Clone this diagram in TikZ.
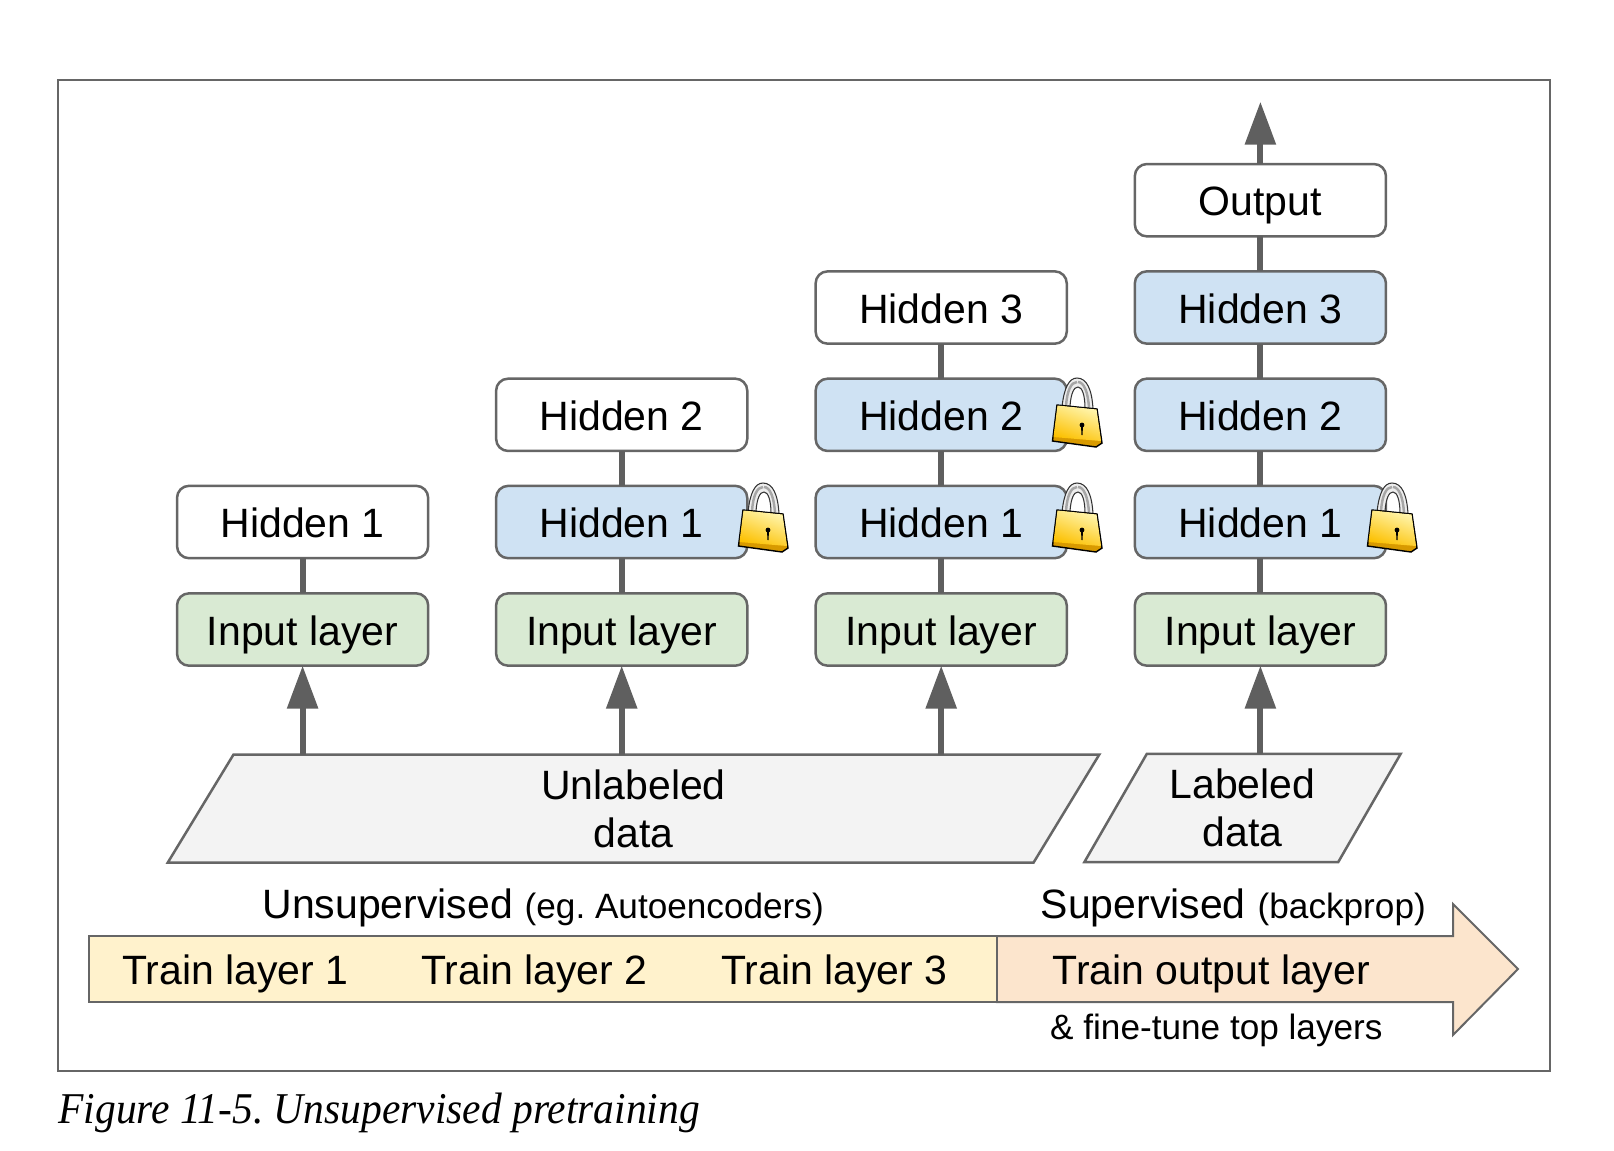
\documentclass[tikz,border=0pt]{standalone}
\usepackage{fontspec}
\usepackage{xcolor}
\usepackage{tikz}
\setmainfont{Liberation Sans}
\newfontfamily\figfont[Ligatures=TeX,FakeStretch=0.944]{Liberation Serif}
\usetikzlibrary{arrows.meta,shapes.geometric}
\definecolor{strokegray}{HTML}{666666}
\definecolor{linkgray}{HTML}{5F5F5F}
\definecolor{frozenblue}{HTML}{CFE2F3}
\definecolor{inputgreen}{HTML}{D9EAD3}
\definecolor{datagray}{HTML}{F3F3F3}
\definecolor{trainyellow}{HTML}{FFF2CC}
\definecolor{trainorange}{HTML}{FCE5CD}
\definecolor{lockhigh}{HTML}{FFF6B0}
\definecolor{locklow}{HTML}{FCC000}
\definecolor{lockedge}{HTML}{D89A00}
\definecolor{steelhigh}{HTML}{EDEDED}
\definecolor{steellow}{HTML}{A6A6A6}
\tikzset{
	padlock/.pic={
		\draw[black!80,line width=0.3pt,fill=steelhigh,even odd rule]
			(10,29) .. controls (12,10) and (17,0) .. (25,0) .. controls (35,0) and (40,12) .. (41,31) -- (33,30)
			.. controls (33,17) and (30,9) .. (26,9) .. controls (22,9) and (19,15) .. (18,28) -- cycle;
		\draw[steellow,line width=0.7pt] (14,28) .. controls (15,13) and (19,4) .. (25,4);
		\draw[steellow,line width=0.7pt] (37,30) .. controls (36,14) and (32,4) .. (26,4);
		\draw[black,line width=0.4pt,fill=lockedge] (5,27) -- (45,31) -- (50,65) -- (44,69) -- (0.5,63) -- cycle;
		\shade[top color=lockhigh,bottom color=locklow,shading angle=-20] (5.5,27.5) -- (44.5,31.5) -- (49,63) -- (1.5,59) -- cycle;
		\fill[black] (30,47) circle (2.4);
		\fill[black] (29,48) -- (31,48) -- (30.5,57) -- (29.5,57) -- cycle;
	}
}

\begin{document}
\frenchspacing
\begin{tikzpicture}[x=0.01cm,y=-0.01cm,
	layerbox/.style={draw=strokegray,line width=0.025cm,rounded corners=0.12cm,minimum width=2.51cm,minimum height=0.723cm,inner sep=0pt,outer sep=0pt,text height=0.31cm,text depth=0pt,font=\fontsize{11.65}{13.57}\selectfont},
	hiddenbox/.style={layerbox,fill=white},
	frozenbox/.style={layerbox,fill=frozenblue},
	inputbox/.style={layerbox,fill=inputgreen},
	databox/.style={draw=strokegray,line width=0.025cm,fill=datagray,trapezium,trapezium stretches body=true,minimum height=1.08cm,inner sep=0pt,outer sep=0pt,align=center,font=\fontsize{11.65}{13.57}\selectfont},
	link/.style={draw=linkgray,line width=0.06cm},
	feed/.style={link,-{Triangle[length=0.43cm,width=0.3cm]}},
	trainshape/.style={draw=strokegray,line width=0.02cm},
	bigtext/.style={anchor=base west,inner sep=0pt,font=\fontsize{11.65}{13.57}\selectfont},
	smalltext/.style={anchor=base west,inner sep=0pt,font=\fontsize{10}{12}\selectfont}]
			\useasboundingbox (0,0) rectangle (1614,1150);
			\draw[strokegray,line width=0.017cm] (57.7,80) rectangle (1549.7,1071);

			\node[hiddenbox] (hA) at (302.6,522) {Hidden 1};
			\node[inputbox] (inA) at (302.6,629.5) {Input layer};

			\node[hiddenbox] (hhB) at (621.7,414.8) {Hidden 2};
			\node[frozenbox] (hB) at (621.7,522) {Hidden 1};
			\node[inputbox] (inB) at (621.7,629.5) {Input layer};

			\node[hiddenbox] (hhhC) at (941.2,307.5) {Hidden 3};
			\node[frozenbox] (hhC) at (941.2,414.8) {Hidden 2};
			\node[frozenbox] (hC) at (941.2,522) {Hidden 1};
			\node[inputbox] (inC) at (941.2,629.5) {Input layer};

			\node[hiddenbox] (outD) at (1260.4,200.2) {Output};
			\node[frozenbox] (hhhD) at (1260.4,307.5) {Hidden 3};
			\node[frozenbox] (hhD) at (1260.4,414.8) {Hidden 2};
			\node[frozenbox] (hD) at (1260.4,522) {Hidden 1};
			\node[inputbox] (inD) at (1260.4,629.5) {Input layer};
			\coordinate (topD) at (1260.4,101.7);

			\node[databox,trapezium left angle=49.8,trapezium right angle=130.2,minimum width=9.31cm] (unlabeled) at (633.5,808.6) {Unlabeled\\data};
			\node[databox,trapezium left angle=51.3,trapezium right angle=128.7,minimum width=3.16cm] (labeled) at (1242.5,808) {Labeled\\data};

			\draw[link] (inA) -- (hA);
			\draw[link] (inB) -- (hB);
			\draw[link] (hB) -- (hhB);
			\draw[link] (inC) -- (hC);
			\draw[link] (hC) -- (hhC);
			\draw[link] (hhC) -- (hhhC);
			\draw[link] (inD) -- (hD);
			\draw[link] (hD) -- (hhD);
			\draw[link] (hhD) -- (hhhD);
			\draw[link] (hhhD) -- (outD);
			\draw[feed] (outD) -- (topD);
			\draw[feed] (inA |- unlabeled.north) -- (inA);
			\draw[feed] (inB |- unlabeled.north) -- (inB);
			\draw[feed] (inC |- unlabeled.north) -- (inC);
			\draw[feed] (inD |- labeled.north) -- (inD);

			\pic at (738,483) {padlock};
			\pic at (1052,378) {padlock};
			\pic at (1052,483) {padlock};
			\pic at (1367,483) {padlock};

			\draw[trainshape,fill=trainorange] (996.8,936) -- (1453,936) -- (1453,904) -- (1518,969) -- (1453,1035) -- (1453,1002) -- (996.8,1002) -- cycle;
			\draw[trainshape,fill=trainyellow] (88.8,936) rectangle (996.8,1002);

			\node[bigtext] (unsup) at (261.8,918.5) {Unsupervised};
			\node[smalltext] (unsupnote) at (524,918.5) {(eg. Autoencoders)};
			\node[bigtext] (sup) at (1040,918.5) {Supervised};
			\node[smalltext] (supnote) at (1257,918.5) {(backprop)};
			\node[bigtext] (trainA) at (121.4,984) {Train layer 1};
			\node[bigtext] (trainB) at (420.4,984) {Train layer 2};
			\node[bigtext] (trainC) at (720.4,984) {Train layer 3};
			\node[bigtext] (trainD) at (1051.9,984) {Train output layer};
			\node[smalltext] (finetune) at (1049.5,1039) {\& fine-tune top layers};
			\node[anchor=base west,inner sep=0pt,font=\fontsize{12.5}{14}\selectfont\figfont\itshape] (figcap) at (57.7,1123) {Figure 11-5. Unsupervised pretraining};
		\end{tikzpicture}
\end{document}
